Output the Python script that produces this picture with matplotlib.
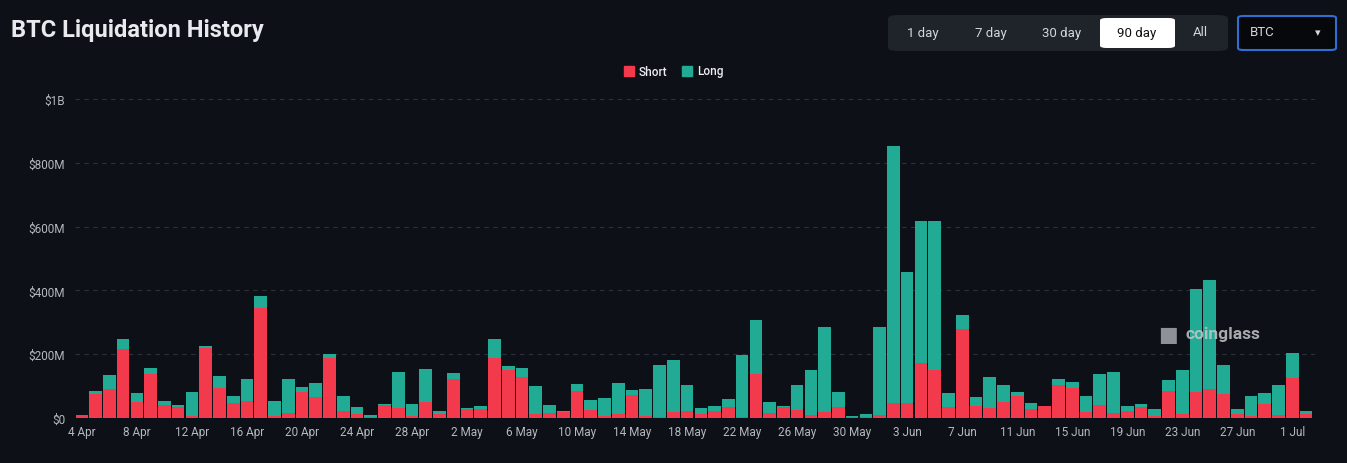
import numpy as np
import pandas as pd
import matplotlib
matplotlib.use("Agg")
import matplotlib.pyplot as plt
from matplotlib.patches import FancyBboxPatch, Rectangle

# daily liquidations in $M, 4 Apr .. 2 Jul
short = [8, 76, 90, 217, 50, 139, 42, 36, 6, 218, 95, 48, 52, 345, 5, 15, 81, 66,
         187, 23, 13, 3, 40, 32, 5, 49, 14, 121, 28, 28, 187, 152, 128, 12, 16,
         19, 85, 25, 6, 14, 71, 6, 3, 19, 23, 13, 22, 34, 4, 139, 17, 33, 24,
         9, 20, 33, 3, 4, 10, 46, 48, 171, 151, 34, 278, 38, 30, 50, 69, 27, 37,
         104, 93, 18, 41, 15, 21, 36, 7, 84, 12, 80, 90, 74, 14, 6, 45, 10, 125, 13]
total = [9, 84, 134, 247, 78, 158, 53, 41, 81, 227, 132, 69, 122, 382, 52, 122, 96, 109,
         202, 69, 33, 8, 44, 143, 45, 155, 22, 140, 30, 37, 247, 164, 158, 100, 40,
         21, 106, 57, 64, 110, 87, 90, 165, 181, 103, 32, 39, 59, 197, 307, 51, 39, 103,
         150, 285, 80, 6, 14, 285, 852, 458, 617, 617, 79, 323, 65, 130, 103, 80, 46, 39,
         122, 114, 69, 139, 143, 39, 44, 28, 120, 149, 403, 433, 167, 28, 69, 79, 102, 204, 21]
long_ = [t - s for t, s in zip(total, short)]

dates = pd.date_range("2024-04-04", periods=90)
tick_labels = ["4 Apr", "8 Apr", "12 Apr", "16 Apr", "20 Apr", "24 Apr", "28 Apr",
               "2 May", "6 May", "10 May", "14 May", "18 May", "22 May", "26 May",
               "30 May", "3 Jun", "7 Jun", "11 Jun", "15 Jun", "19 Jun", "23 Jun",
               "27 Jun", "1 Jul"]
y_ticks = [0, 200, 400, 600, 800, 1000]
y_labels = ["$0", "$200M", "$400M", "$600M", "$800M", "$1B"]

bg = "#0d1016"
red = "#f23a4c"
teal = "#22ab94"
txt = "#b4b8bf"

plt.rcParams['font.family'] = ['Roboto', 'DejaVu Sans']

W, H = 1347, 464
fig = plt.figure(figsize=(W / 100, H / 100), dpi=100, facecolor=bg)

def fx(x):
    return x / W

def fy(y):
    return 1 - y / H

ax = fig.add_axes([fx(75), fy(419), fx(1315) - fx(75), fy(100) - fy(419)])
ax.set_facecolor(bg)

x = np.arange(len(dates))
ax.bar(x, short, width=0.92, color=red, linewidth=0, zorder=3)
ax.bar(x, long_, bottom=short, width=0.92, color=teal, linewidth=0, zorder=3)

ax.set_xlim(-0.5, len(dates) - 0.35)
ax.set_ylim(0, 1000)
ax.set_yticks(y_ticks)
ax.set_yticklabels(y_labels)
ax.set_xticks(x[::4])
ax.set_xticklabels(tick_labels)
ax.tick_params(axis='both', length=0, colors=txt, labelsize=8.5)
ax.tick_params(axis='y', pad=7)
ax.tick_params(axis='x', pad=5)
for s in ax.spines.values():
    s.set_visible(False)
ax.grid(axis='y', color='#2c3038', linestyle=(0, (4, 4)), linewidth=0.8, zorder=0)

# title
fig.text(fx(11), fy(31), "BTC Liquidation History", color="#e8eaee", fontsize=17,
         fontweight='bold', va='center', ha='left')

# legend
fig.add_artist(Rectangle((fx(624), fy(77)), fx(10), fy(67) - fy(77), color=red))
fig.text(fx(639), fy(72), "Short", color="#eceef2", fontsize=8.5, fontweight='medium', va='center')
fig.add_artist(Rectangle((fx(682), fy(77)), fx(10), fy(67) - fy(77), color=teal))
fig.text(fx(697), fy(72), "Long", color="#eceef2", fontsize=8.5, fontweight='medium', va='center')

# period buttons
fig.add_artist(FancyBboxPatch((fx(888), fy(52)), fx(340), fy(16) - fy(52),
                              boxstyle="round,pad=0,rounding_size=0.008",
                              facecolor="#1f232a", edgecolor="none"))
fig.add_artist(FancyBboxPatch((fx(1100), fy(49)), fx(75), fy(19) - fy(49),
                              boxstyle="round,pad=0,rounding_size=0.005",
                              facecolor="white", edgecolor="none"))
for lbl, cx in [("1 day", 923), ("7 day", 991), ("30 day", 1062), ("90 day", 1137), ("All", 1200)]:
    fig.text(fx(cx), fy(33), lbl, color="#111111" if lbl == "90 day" else "#d4d6da",
             fontsize=9.5, ha='center', va='center')

# coin selector
fig.add_artist(FancyBboxPatch((fx(1238), fy(51)), fx(98), fy(17) - fy(51),
                              boxstyle="round,pad=0,rounding_size=0.004",
                              facecolor="#06080c", edgecolor="#2e6fd1", linewidth=1.5))
fig.text(fx(1250), fy(33), "BTC", color="#d4d6da", fontsize=9.5, ha='left', va='center')
fig.text(fx(1318), fy(33), "\u25be", color="#d4d6da", fontsize=8, ha='center', va='center')

# watermark
fig.text(fx(1185), fy(335), "coinglass", color="#c4c6ca", fontsize=12.5,
         fontweight='bold', ha='left', va='center', alpha=0.85, zorder=10)
fig.text(fx(1168), fy(336), "\u25a0", color="#b0b2b6", fontsize=15,
         ha='center', va='center', alpha=0.8, zorder=10)

fig.savefig("out.png", dpi=100, facecolor=bg)
